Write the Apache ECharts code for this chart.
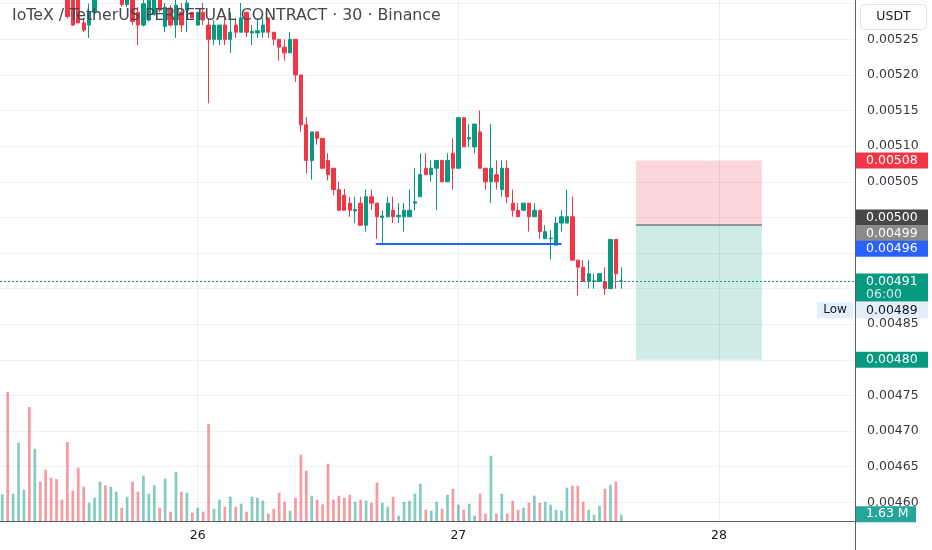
<!DOCTYPE html>
<html><head><meta charset="utf-8">
<script src="https://cdn.jsdelivr.net/npm/echarts@6/dist/echarts.min.js"></script>
<style>html,body{margin:0;padding:0;background:#fff}#c{width:932px;height:550px}</style>
</head><body><div id="c"></div>
<script>
// first bar position, counted in 30-minute steps from day 26 00:00
const FIRST_BAR = -36;
const opens = [
0.005340,0.005350,0.005320,0.005330,0.005355,0.005360,0.005325,0.005345,0.005330,0.005325,0.005320,0.005315,
0.005312,0.005308,0.005306,0.005273,0.005270,0.005288,0.005308,0.005320,0.005310,0.005325,0.005310,0.005299,
0.005310,0.005288,0.005270,0.005277,0.005285,0.005310,0.005268,0.005294,0.005270,0.005288,0.005291,0.005288,
0.005270,0.005288,0.005270,0.005250,0.005250,0.005270,0.005250,0.005270,0.005260,0.005288,0.005259,0.005259,
0.005260,0.005280,0.005260,0.005250,0.005239,0.005231,0.005250,0.005200,0.005130,0.005080,0.005120,0.005111,
0.005080,0.005069,0.005039,0.005031,0.005020,0.005009,0.005020,0.004989,0.005029,0.005020,0.005000,0.005001,
0.005010,0.005001,0.005001,0.005001,0.005020,0.005029,0.005069,0.005060,0.005069,0.005080,0.005050,0.005090,
0.005069,0.005140,0.005110,0.005099,0.005120,0.005069,0.005050,0.005060,0.005039,0.005069,0.005020,0.005010,
0.005010,0.005020,0.005001,0.005010,0.004970,0.004970,0.004961,0.004992,0.004992,0.005001,0.004940,0.004930,
0.004910,0.004910,0.004910,0.004910,0.004900,0.004969,0.004910];
const closes = [
0.005350,0.005320,0.005330,0.005355,0.005360,0.005325,0.005345,0.005330,0.005325,0.005320,0.005315,0.005310,
0.005282,0.005270,0.005273,0.005263,0.005288,0.005308,0.005320,0.005310,0.005325,0.005330,0.005299,0.005310,
0.005275,0.005270,0.005300,0.005308,0.005308,0.005291,0.005295,0.005270,0.005298,0.005270,0.005301,0.005280,
0.005288,0.005277,0.005250,0.005270,0.005270,0.005250,0.005260,0.005260,0.005280,0.005260,0.005261,0.005262,
0.005270,0.005260,0.005250,0.005239,0.005231,0.005250,0.005200,0.005130,0.005080,0.005120,0.005111,0.005069,
0.005060,0.005039,0.005010,0.005010,0.005010,0.005011,0.004989,0.005029,0.005020,0.005001,0.005002,0.005020,
0.005001,0.005003,0.005010,0.005010,0.005022,0.005060,0.005060,0.005069,0.005080,0.005050,0.005080,0.005069,
0.005140,0.005099,0.005112,0.005131,0.005069,0.005050,0.005069,0.005050,0.005069,0.005029,0.005010,0.005001,
0.005020,0.005001,0.005010,0.004980,0.004980,0.004971,0.004992,0.005001,0.005001,0.004940,0.004930,0.004910,
0.004921,0.004911,0.004921,0.004900,0.004969,0.004921,0.004911];
const lows = [
0.005330,0.005315,0.005315,0.005325,0.005350,0.005318,0.005320,0.005325,0.005318,0.005315,0.005310,0.005308,
0.005279,0.005269,0.005273,0.005260,0.005252,0.005285,0.005307,0.005308,0.005308,0.005320,0.005296,0.005295,
0.005270,0.005242,0.005268,0.005275,0.005283,0.005288,0.005260,0.005268,0.005252,0.005260,0.005260,0.005280,
0.005270,0.005270,0.005160,0.005242,0.005242,0.005242,0.005231,0.005252,0.005260,0.005253,0.005242,0.005252,
0.005252,0.005252,0.005242,0.005220,0.005220,0.005231,0.005190,0.005120,0.005062,0.005053,0.005102,0.005069,
0.005052,0.005031,0.005010,0.005010,0.005001,0.004992,0.004989,0.004980,0.005010,0.004970,0.004961,0.005001,
0.004992,0.004992,0.004980,0.005001,0.005010,0.005029,0.005060,0.005050,0.005010,0.005050,0.005050,0.005039,
0.005069,0.005099,0.005099,0.005090,0.005069,0.005039,0.005020,0.005039,0.005029,0.005020,0.005001,0.005001,
0.005010,0.004980,0.005001,0.004970,0.004970,0.004941,0.004961,0.004980,0.004992,0.004940,0.004890,0.004910,
0.004900,0.004900,0.004910,0.004891,0.004900,0.004900,0.004900];
const highs = [
0.005360,0.005360,0.005340,0.005360,0.005370,0.005365,0.005350,0.005350,0.005340,0.005330,0.005325,0.005320,
0.005316,0.005310,0.005310,0.005280,0.005300,0.005312,0.005325,0.005325,0.005330,0.005335,0.005315,0.005315,
0.005314,0.005295,0.005306,0.005312,0.005315,0.005313,0.005301,0.005298,0.005306,0.005301,0.005305,0.005288,
0.005288,0.005301,0.005280,0.005277,0.005270,0.005280,0.005288,0.005280,0.005301,0.005288,0.005270,0.005280,
0.005280,0.005280,0.005260,0.005250,0.005250,0.005260,0.005250,0.005200,0.005141,0.005120,0.005120,0.005111,
0.005090,0.005069,0.005050,0.005040,0.005029,0.005029,0.005029,0.005039,0.005039,0.005020,0.005010,0.005029,
0.005029,0.005020,0.005020,0.005039,0.005069,0.005090,0.005090,0.005080,0.005080,0.005080,0.005090,0.005111,
0.005140,0.005140,0.005131,0.005131,0.005150,0.005069,0.005131,0.005080,0.005080,0.005080,0.005039,0.005020,
0.005020,0.005020,0.005020,0.005010,0.004989,0.004982,0.005001,0.005010,0.005039,0.005029,0.004940,0.004940,
0.004940,0.004921,0.004921,0.004930,0.004969,0.004969,0.004930];
const volumesM = [
6.19,29.03,6.32,17.71,7.21,25.68,16.37,9.00,11.68,9.89,9.60,4.98,
17.86,6.99,12.13,7.88,4.31,5.43,9.00,8.20,7.88,6.77,3.19,5.65,
9.00,6.77,10.34,6.32,8.20,3.19,9.67,2.30,11.23,6.77,6.54,2.08,
3.19,2.30,21.88,2.97,4.98,3.42,5.65,3.42,4.09,2.30,5.65,5.43,
4.76,1.85,2.97,6.54,4.53,2.52,5.43,15.03,11.46,5.87,4.98,3.95,
13.02,4.98,5.87,5.43,6.10,4.53,4.98,4.76,4.31,8.78,4.31,3.42,
5.65,1.41,4.53,4.76,6.32,8.55,2.75,2.52,4.53,2.97,6.10,7.44,
3.86,2.75,4.09,1.41,6.32,1.85,14.80,1.85,6.32,1.85,4.76,2.75,
3.19,4.31,5.87,4.31,4.53,3.86,2.75,2.52,7.66,8.11,8.11,4.53,
2.75,1.63,3.64,7.44,8.33,9.00,1.63];
const dayTicks = [0, 48, 96];
const dayLabels = ['26', '27', '28'];
const titleText = 'IoTeX / TetherUS PERPETUAL CONTRACT · 30 · Binance';
const currentPrice = 0.00491;
const countdown = '06:00';
const lowPrice = 0.00489;
const alertPrice = 0.00500;
const trendFrom = 32.8, trendTo = 67.0, trendPrice = 0.004963;
const posFrom = 80.7, posTo = 103.9;
const posStop = 0.00508, posEntry = 0.00499, posTarget = 0.00480;
const X_MIN = -36.41, X_MAX = 121.23;

const UP = '#089981', DOWN = '#f23645';
const FONT = 'DejaVu Sans';
const hiddenTicks = [535, 530, 500, 495, 490, 480];

const candleData = opens.map((o, i) => [FIRST_BAR + i, o, closes[i], lows[i], highs[i]]);
const volData = volumesM.map((v, i) => ({
  value: [FIRST_BAR + i, v],
  itemStyle: { color: closes[i] >= opens[i] ? 'rgba(8,153,129,0.5)' : 'rgba(242,54,69,0.5)' }
}));

const chart = echarts.init(document.getElementById('c'), null, { renderer: 'canvas' });
chart.setOption({
  animation: false,
  backgroundColor: '#ffffff',
  grid: [
    { left: 0, right: 76, top: -31.9, bottom: 47.7, outerBoundsMode: 'none', containLabel: false },
    { left: 0, right: 76, top: 0, bottom: 28, outerBoundsMode: 'none', containLabel: false }
  ],
  xAxis: [
    { type: 'value', gridIndex: 0, min: X_MIN, max: X_MAX, show: false },
    { type: 'value', gridIndex: 1, min: X_MIN, max: X_MAX,
      axisLine: { show: false }, axisTick: { show: false }, splitLine: { show: false },
      axisLabel: { customValues: dayTicks, formatter: v => dayLabels[dayTicks.indexOf(v)] || '',
        color: '#131722', fontSize: 12.5, fontFamily: FONT, margin: 7 } }
  ],
  yAxis: [
    { type: 'value', gridIndex: 0, position: 'right', min: 0.0046, max: 0.00535, interval: 0.00005,
      axisLine: { show: false }, axisTick: { show: false },
      splitLine: { show: true, lineStyle: { color: '#edf0f5', width: 1 } },
      axisLabel: { margin: 11, color: '#363940', fontSize: 12.5, fontFamily: FONT,
        formatter: v => hiddenTicks.includes(Math.round(v * 1e5)) ? '' : v.toFixed(5) } },
    { type: 'value', gridIndex: 1, min: 0, max: 116.6, show: false }
  ],
  series: [
    { type: 'bar', name: 'Volume', xAxisIndex: 1, yAxisIndex: 1, data: volData, barWidth: 2.7, z: 1, silent: true,
      markLine: { silent: true, symbol: ['none', 'none'], z: 0, label: { show: false },
        lineStyle: { color: '#e9edf4', width: 1, type: 'solid' },
        data: dayTicks.map(d => ({ xAxis: d })) } },
    { type: 'candlestick', name: 'IOTXUSDT.P', xAxisIndex: 0, yAxisIndex: 0, data: candleData,
      encode: { x: 0, y: [1, 2, 3, 4] }, barWidth: 3.8, z: 3, silent: true, clip: true,
      itemStyle: { color: UP, color0: DOWN, borderColor: UP, borderColor0: DOWN, borderWidth: 1 },
      markArea: { silent: true, data: [
        [{ coord: [posFrom, posStop], itemStyle: { color: 'rgba(242,54,69,0.2)' } }, { coord: [posTo, posEntry] }],
        [{ coord: [posFrom, posEntry], itemStyle: { color: 'rgba(8,153,129,0.2)' } }, { coord: [posTo, posTarget] }]
      ] },
      markLine: { silent: true, symbol: ['none', 'none'], label: { show: false },
        data: [
        [{ coord: [trendFrom, trendPrice], lineStyle: { color: '#2962ff', width: 2, type: 'solid' } }, { coord: [trendTo, trendPrice] }],
        [{ coord: [posFrom, posEntry], lineStyle: { color: '#787b86', width: 1.5, type: 'solid' } }, { coord: [posTo, posEntry] }]
      ] } }
  ]
});

function priceY(v) { return chart.convertToPixel({ yAxisIndex: 0 }, v); }
const AX = 856;
function badge(y, text, bg, fg, w) {
  return { type: 'group', z: 100, children: [
    { type: 'rect', shape: { x: AX, y: y - 8, width: w || 72, height: 16 }, style: { fill: bg } },
    { type: 'text', x: AX + 10, y: y, style: { text: text, fill: fg, font: '12.5px "' + FONT + '"', verticalAlign: 'middle', align: 'left' } }
  ] };
}
const yCur = priceY(currentPrice);
const yLine = Math.round(yCur) + 0.5;
const graphics = [
  { type: 'line', z: 80, silent: true, shape: { x1: 0, y1: yLine, x2: 855, y2: yLine },
    style: { stroke: UP, lineWidth: 1, lineDash: [2, 2] } },
  { type: 'line', z: 90, shape: { x1: 855.5, y1: 0, x2: 855.5, y2: 550 }, style: { stroke: '#5d606b', lineWidth: 1 } },
  { type: 'line', z: 90, shape: { x1: 0, y1: 521.5, x2: 856, y2: 521.5 }, style: { stroke: '#5d606b', lineWidth: 1 } },
  { type: 'text', z: 100, x: 12, y: 16, style: { text: titleText, fill: '#434651', font: '15.8px "' + FONT + '"', verticalAlign: 'middle' } },
  { type: 'rect', z: 100, shape: { x: 860.5, y: 4.5, width: 66, height: 25, r: 4 }, style: { fill: '#fff', stroke: '#e0e3eb', lineWidth: 1 } },
  { type: 'text', z: 101, x: 893.5, y: 17, style: { text: 'USDT', fill: '#131722', font: '12.5px "' + FONT + '"', align: 'center', verticalAlign: 'middle' } },
  badge(priceY(posStop), posStop.toFixed(5), DOWN, '#ffffff'),
  badge(priceY(alertPrice), alertPrice.toFixed(5), '#474747', '#ffffff'),
  badge(priceY(posEntry) + 8.8, posEntry.toFixed(5), '#8a8a8a', '#ffffff'),
  badge(priceY(trendPrice) + 5, trendPrice.toFixed(5), '#2962ff', '#ffffff'),
  { type: 'group', z: 100, children: [
    { type: 'rect', shape: { x: AX, y: yCur - 8, width: 72, height: 28 }, style: { fill: UP } },
    { type: 'text', x: AX + 10, y: yCur, style: { text: currentPrice.toFixed(5), fill: '#fff', font: '12.5px "' + FONT + '"', verticalAlign: 'middle' } },
    { type: 'text', x: AX + 10, y: yCur + 13, style: { text: countdown, fill: 'rgba(255,255,255,0.8)', font: '12.5px "' + FONT + '"', verticalAlign: 'middle' } }
  ] },
  badge(priceY(lowPrice) + 14.6, lowPrice.toFixed(5), '#e3eefb', '#131722'),
  { type: 'rect', z: 100, shape: { x: 817, y: priceY(lowPrice) + 14.6 - 8, width: 36, height: 16 }, style: { fill: '#e3eefb' } },
  { type: 'text', z: 101, x: 835, y: priceY(lowPrice) + 14.6, style: { text: 'Low', fill: '#131722', font: '12px "' + FONT + '"', align: 'center', verticalAlign: 'middle' } },
  badge(priceY(posTarget), posTarget.toFixed(5), UP, '#ffffff'),
  badge(chart.convertToPixel({ yAxisIndex: 1 }, volumesM[volumesM.length - 1]) - 0.5,
        volumesM[volumesM.length - 1].toFixed(2) + ' M', '#26a69a', '#ffffff', 60)
];
chart.setOption({ graphic: graphics });
</script></body></html>
